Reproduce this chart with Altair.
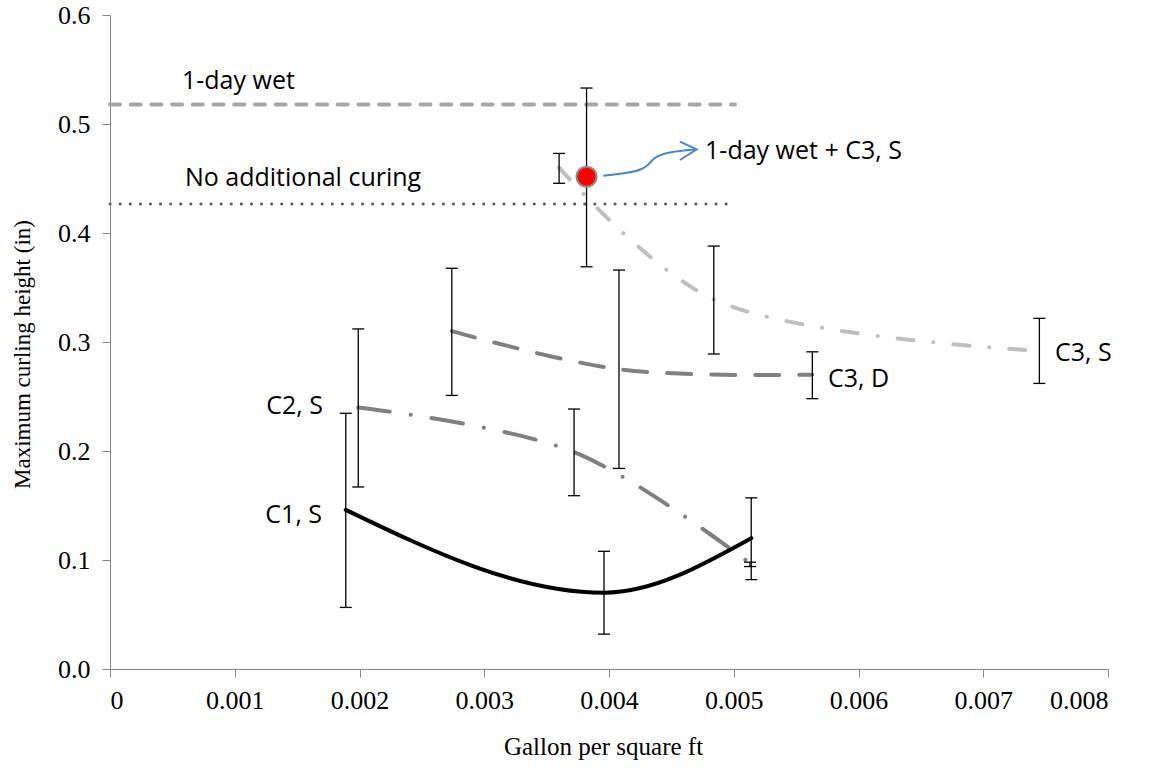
import altair as alt
import pandas as pd

# ---------------- data ----------------
x_ticks = [0, 0.001, 0.002, 0.003, 0.004, 0.005, 0.006, 0.007, 0.008]
y_ticks = [0.0, 0.1, 0.2, 0.3, 0.4, 0.5, 0.6]

c1_x = [0.00189, 0.00396, 0.00514]
c1_y = [0.146, 0.070, 0.120]
c1_lo = [0.0565, 0.032, 0.082]
c1_hi = [0.2346, 0.108, 0.157]

c2_x = [0.00199, 0.00372, 0.00513]
c2_y = [0.240, 0.199, 0.097]
c2_lo = [0.167, 0.159, 0.094]
c2_hi = [0.312, 0.2385, 0.098]

c3d_x = [0.00274, 0.00408, 0.00563]
c3d_y = [0.310, 0.275, 0.270]
c3d_lo = [0.251, 0.184, 0.248]
c3d_hi = [0.3676, 0.366, 0.291]

c3s_x = [0.0036, 0.00484, 0.00745]
c3s_y = [0.460, 0.339, 0.292]
c3s_lo = [0.4456, 0.289, 0.262]
c3s_hi = [0.473, 0.388, 0.3217]

wet_x = [0.00382]
wet_y = [0.4517]
wet_lo = [0.369]
wet_hi = [0.533]

ref_names = ["1-day wet", "No additional curing"]
ref_y = [0.518, 0.4266]
ref_x_end = [0.00501, 0.00494]

# annotation arrow (data units)
arrow_x = [0.003954, 0.004142, 0.004275, 0.004329, 0.004355, 0.004435, 0.004569, 0.004703]
arrow_y = [0.4526, 0.4548, 0.4584, 0.4640, 0.4685, 0.4731, 0.4755, 0.4768]
head_x = [0.004569, 0.004703, 0.004569]
head_y = [0.4838, 0.4768, 0.4670]

# labels
left_labels = ["1-day wet", "No additional curing", "1-day wet + C3, S", "C3, D", "C3, S"]
left_lx = [0.000577, 0.000601, 0.00477, 0.005755, 0.007575]
left_ly = [0.5394, 0.4505, 0.4752, 0.2665, 0.2899]
right_labels = ["C1, S", "C2, S"]
right_lx = [0.00170, 0.001707]
right_ly = [0.1413, 0.2417]

# ---------------- encodings ----------------
SERIF = "Liberation Serif"
SANS = "Open Sans"
AXC = "#868686"

xscale = alt.Scale(domain=[0, 0.008], nice=False, zero=False)
yscale = alt.Scale(domain=[0, 0.6], nice=False, zero=False)

xaxis = alt.Axis(values=x_ticks, format=".3~f", grid=False, labelFont=SERIF,
                 labelFontSize=26, labelColor="#000000", tickColor=AXC,
                 domainColor=AXC, tickSize=8, labelPadding=10,
                 title="Gallon per square ft", titleFont=SERIF, titleFontSize=25,
                 titleFontWeight="normal", titleColor="#000000", titleX=493,
                 titleY=77, titleBaseline="middle", titleAlign="center")
yaxis = alt.Axis(values=y_ticks, format=".1f", grid=False, labelFont=SERIF,
                 labelFontSize=26, labelColor="#000000", tickColor=AXC,
                 domainColor=AXC, tickSize=8, labelPadding=12,
                 title="Maximum curling height (in)", titleFont=SERIF,
                 titleFontSize=23, titleFontWeight="normal", titleColor="#000000",
                 titleX=-88, titleY=339, titleAngle=270,
                 titleBaseline="middle", titleAlign="center")


def X(field):
    return alt.X(f"{field}:Q", scale=xscale, axis=xaxis)


def Y(field):
    return alt.Y(f"{field}:Q", scale=yscale, axis=yaxis)


def series_df(xs, ys):
    return pd.DataFrame({"x": xs, "y": ys, "o": list(range(len(xs)))})


# reference lines
ref_df = pd.DataFrame({"name": ref_names, "x0": [0, 0], "x1": ref_x_end, "y": ref_y})
wet_line = alt.Chart(ref_df[ref_df.name == "1-day wet"]).mark_rule(
    color="#A6A6A6", strokeWidth=4, strokeDash=[10, 10.7], strokeCap="round"
).encode(x=X("x0"), x2="x1", y=Y("y"))
dry_line = alt.Chart(ref_df[ref_df.name == "No additional curing"]).mark_rule(
    color="#595959", strokeWidth=3, strokeDash=[0.1, 10], strokeCap="round"
).encode(x=X("x0"), x2="x1", y=Y("y"))


# series lines
def line_layer(xs, ys, interp="catmull-rom", **kw):
    return alt.Chart(series_df(xs, ys)).mark_line(
        interpolate=interp, strokeCap="round", **kw
    ).encode(x=X("x"), y=Y("y"), order="o:Q")


c3s_line = line_layer(c3s_x, c3s_y, color="#BFBFBF", strokeWidth=4, strokeDash=[16, 20, 0.1, 20])
c3d_line = line_layer(c3d_x, c3d_y, color="#808080", strokeWidth=4, strokeDash=[24, 20])
c2_line = line_layer(c2_x, c2_y, color="#808080", strokeWidth=4, strokeDash=[32, 21, 0.1, 21])
c1_line = line_layer(c1_x, c1_y, interp="monotone", color="#000000", strokeWidth=4)

# error bars
err_df = pd.DataFrame({
    "x": c1_x + c2_x + c3d_x + c3s_x + wet_x,
    "lo": c1_lo + c2_lo + c3d_lo + c3s_lo + wet_lo,
    "hi": c1_hi + c2_hi + c3d_hi + c3s_hi + wet_hi,
})
err_rule = alt.Chart(err_df).mark_rule(color="#000000", strokeWidth=1.3).encode(
    x=X("x"), y=Y("lo"), y2="hi")
cap_lo = alt.Chart(err_df).mark_rule(color="#000000", strokeWidth=1.3, xOffset=-6, x2Offset=6).encode(
    x=X("x"), x2="x", y=Y("lo"))
cap_hi = alt.Chart(err_df).mark_rule(color="#000000", strokeWidth=1.3, xOffset=-6, x2Offset=6).encode(
    x=X("x"), x2="x", y=Y("hi"))

# red point
wet_pt = alt.Chart(pd.DataFrame({"x": wet_x, "y": wet_y})).mark_point(
    filled=True, fill="#FF0000", stroke="#8C8C8C", strokeWidth=2, size=400, opacity=1
).encode(x=X("x"), y=Y("y"))

# arrow
arrow = alt.Chart(series_df(arrow_x, arrow_y)).mark_line(
    color="#4A86C8", strokeWidth=2, interpolate="basis"
).encode(x=X("x"), y=Y("y"), order="o:Q")
head = alt.Chart(series_df(head_x, head_y)).mark_line(
    color="#4A86C8", strokeWidth=2
).encode(x=X("x"), y=Y("y"), order="o:Q")

# labels
lt = alt.Chart(pd.DataFrame({"t": left_labels, "x": left_lx, "y": left_ly})).mark_text(
    align="left", baseline="middle", font=SANS, fontSize=25, color="#000000"
).encode(x=X("x"), y=Y("y"), text="t:N")
rt = alt.Chart(pd.DataFrame({"t": right_labels, "x": right_lx, "y": right_ly})).mark_text(
    align="right", baseline="middle", font=SANS, fontSize=25, color="#000000"
).encode(x=X("x"), y=Y("y"), text="t:N")

chart = alt.layer(
    wet_line, dry_line, c3s_line, c3d_line, c2_line, c1_line,
    err_rule, cap_lo, cap_hi, wet_pt, arrow, head, lt, rt
).properties(
    width=998, height=654,
    autosize=alt.AutoSizeParams(type="none"),
    padding={"left": 110, "top": 15, "right": 43, "bottom": 99},
    background="white",
).configure_view(stroke=None)

chart.save("out.html", embed_options={"renderer": "svg", "actions": False})
